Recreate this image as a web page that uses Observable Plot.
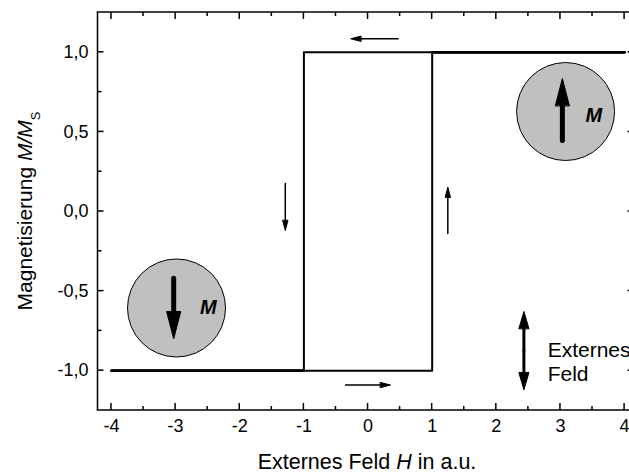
<!DOCTYPE html>
<html>
<head>
<meta charset="utf-8">
<script src="https://cdn.jsdelivr.net/npm/d3@7"></script>
<script src="https://cdn.jsdelivr.net/npm/@observablehq/plot@0.6"></script>
<style>
  html, body { margin: 0; padding: 0; background: #fff; overflow: hidden; }
  #chart { width: 629px; height: 473px; overflow: hidden; }
</style>
</head>
<body>
<div id="chart"></div>
<script>
// ---- tick values ----
const xTicks = [-4, -3, -2, -1, 0, 1, 2, 3, 4];
const xMinorTicks = [-3.5, -2.5, -1.5, -0.5, 0.5, 1.5, 2.5, 3.5];
const yTicks = [-1, -0.5, 0, 0.5, 1];
const yMinorTicks = [-0.75, -0.25, 0.25, 0.75];

// ---- hysteresis loop (H, M/Ms) ----
const ascendingBranch = [
  {H: -4, M: -1}, {H: 1, M: -1}, {H: 1, M: 1}, {H: 4, M: 1}
];
const descendingBranch = [
  {H: 4, M: 1}, {H: -1, M: 1}, {H: -1, M: -1}, {H: -4, M: -1}
];
const saturationLow = [{H: -4, M: -1}, {H: -1, M: -1}];
const saturationHigh = [{H: 1, M: 1}, {H: 4, M: 1}];

// ---- sweep direction arrows ----
const sweepArrows = [
  {x1: 0.47, y1: 1.085, x2: -0.27, y2: 1.085},
  {x1: -1.29, y1: 0.176, x2: -1.29, y2: -0.12},
  {x1: 1.244, y1: -0.138, x2: 1.244, y2: 0.153},
  {x1: -0.35, y1: -1.09, x2: 0.35, y2: -1.09}
];

// ---- magnetisation sketches ----
const particles = [
  {x: 3.08, y: 0.628},
  {x: -2.986, y: -0.606}
];
const momentArrows = [
  {x1: 3.03, y1: 0.446, x2: 3.03, y2: 0.835},
  {x1: -3.03, y1: -0.419, x2: -3.03, y2: -0.80}
];
const momentLabels = [
  {x: 3.52, y: 0.60, text: "M"},
  {x: -2.49, y: -0.603, text: "M"}
];

// ---- external field legend ----
const fieldArrow = [{x1: 2.43, y1: -0.874, x2: 2.43, y2: -0.628}, {x1: 2.43, y1: -0.874, x2: 2.43, y2: -1.12}];
const fieldLabel = [{x: 2.8, y: -0.94, text: "Externes\nFeld"}];

const xTitle = ["Externes Feld ", "H", " in a.u."];
const yTitle = ["Magnetisierung ", "M/M", "S"];

const headShape = {
  draw(context, l, r) {
    context.moveTo(-r, 0);
    context.lineTo(0, -l);
    context.lineTo(r, 0);
    context.closePath();
  }
};
function rot(d) {
  const dx = d.x2 - d.x1, dy = d.y2 - d.y1;
  if (Math.abs(dx) > Math.abs(dy)) return dx > 0 ? 90 : -90;
  return dy > 0 ? 0 : 180;
}
function arrowMarks(data, {width, headLength, headRadius}) {
  return [
    Plot.arrow(data, {x1: "x1", y1: "y1", x2: "x2", y2: "y2", headLength: 0, insetEnd: headLength * 0.7,
      strokeWidth: width, stroke: "black", strokeLinecap: "round"}),
    Plot.vector(data, {x: "x2", y: "y2", rotate: rot, length: headLength, r: headRadius, anchor: "end",
      shape: headShape, fill: "black", stroke: "black", strokeWidth: 1, strokeLinejoin: "round"})
  ];
}

const plot = Plot.plot({
  width: 629,
  height: 473,
  marginLeft: 97.5,
  marginRight: -6,
  marginTop: 12,
  marginBottom: 63,
  style: {fontFamily: "'Liberation Sans', Arial, sans-serif", fontSize: "18px", background: "white", color: "black"},
  x: {domain: [-4.21, 4.17], label: null},
  y: {domain: [-1.25, 1.25], label: null},
  marks: [
    Plot.dot(particles, {x: "x", y: "y", r: 49, fill: "#c0c0c0", stroke: "black", strokeWidth: 1}),
    Plot.line(ascendingBranch, {x: "H", y: "M", strokeWidth: 2, stroke: "black"}),
    Plot.line(descendingBranch, {x: "H", y: "M", strokeWidth: 2, stroke: "black"}),
    Plot.line(saturationLow, {x: "H", y: "M", strokeWidth: 2.8, stroke: "black"}),
    Plot.line(saturationHigh, {x: "H", y: "M", strokeWidth: 2.8, stroke: "black"}),
    ...arrowMarks(sweepArrows, {width: 1.5, headLength: 10, headRadius: 2.6}),
    ...arrowMarks(momentArrows, {width: 5, headLength: 27, headRadius: 7}),
    ...arrowMarks(fieldArrow, {width: 3, headLength: 17, headRadius: 5}),
    Plot.text(momentLabels, {x: "x", y: "y", text: "text", fontSize: 20, fontWeight: "bold", fontStyle: "italic"}),
    Plot.text(fieldLabel, {x: "x", y: "y", text: "text", fontSize: 21, textAnchor: "start", lineHeight: 1.15}),
    // tick labels
    Plot.axisX(xTicks, {anchor: "bottom", tickSize: 0, tickPadding: 9, fontSize: 18, tickFormat: d => String(d)}),
    Plot.axisY(yTicks, {anchor: "left", tickSize: 0, tickPadding: 9.5, fontSize: 18, tickFormat: d => d.toFixed(1).replace(".", ",")})
  ]
});
document.getElementById("chart").append(plot);

// inward ticks and frame, placed through Plot's own scales
const svg = d3.select(plot);
const xs = plot.scale("x"), ys = plot.scale("y");
const [X0, X1] = xs.range;
const [Yb, Yt] = ys.range;
const g = svg.append("g").attr("stroke", "black").attr("fill", "none");
function seg(x1, y1, x2, y2, w) {
  g.append("line").attr("x1", x1).attr("y1", y1).attr("x2", x2).attr("y2", y2).attr("stroke-width", w);
}
xTicks.forEach(v => { const p = xs.apply(v); seg(p, Yb, p, Yb - 7, 1.5); seg(p, Yt, p, Yt + 7, 1.5); });
xMinorTicks.forEach(v => { const p = xs.apply(v); seg(p, Yb, p, Yb - 4, 1.5); seg(p, Yt, p, Yt + 4, 1.5); });
yTicks.forEach(v => { const p = ys.apply(v); seg(X0, p, X0 + 6, p, 1.5); seg(X1, p, X1 - 7.5, p, 1.5); });
yMinorTicks.forEach(v => { const p = ys.apply(v); seg(X0, p, X0 + 4, p, 1.5); });
seg(X0 - 0.75, Yb, X1, Yb, 1.5);
seg(X0 - 0.75, Yt, X1, Yt, 1.5);
seg(X0, Yb, X0, Yt, 1.5);

// axis titles with mixed italic / subscript
const xt = svg.append("text").attr("x", 367).attr("y", 469).attr("text-anchor", "middle")
  .attr("font-size", 21.5).attr("fill", "black");
xt.append("tspan").text(xTitle[0]);
xt.append("tspan").attr("font-style", "italic").text(xTitle[1]);
xt.append("tspan").text(xTitle[2]);

const yt = svg.append("text").attr("transform", "translate(32,211) rotate(-90)").attr("text-anchor", "middle")
  .attr("font-size", 21).attr("fill", "black");
yt.append("tspan").text(yTitle[0]);
yt.append("tspan").attr("font-style", "italic").text(yTitle[1]);
yt.append("tspan").attr("font-size", 13).attr("dy", 8).text(yTitle[2]);
</script>
</body>
</html>
